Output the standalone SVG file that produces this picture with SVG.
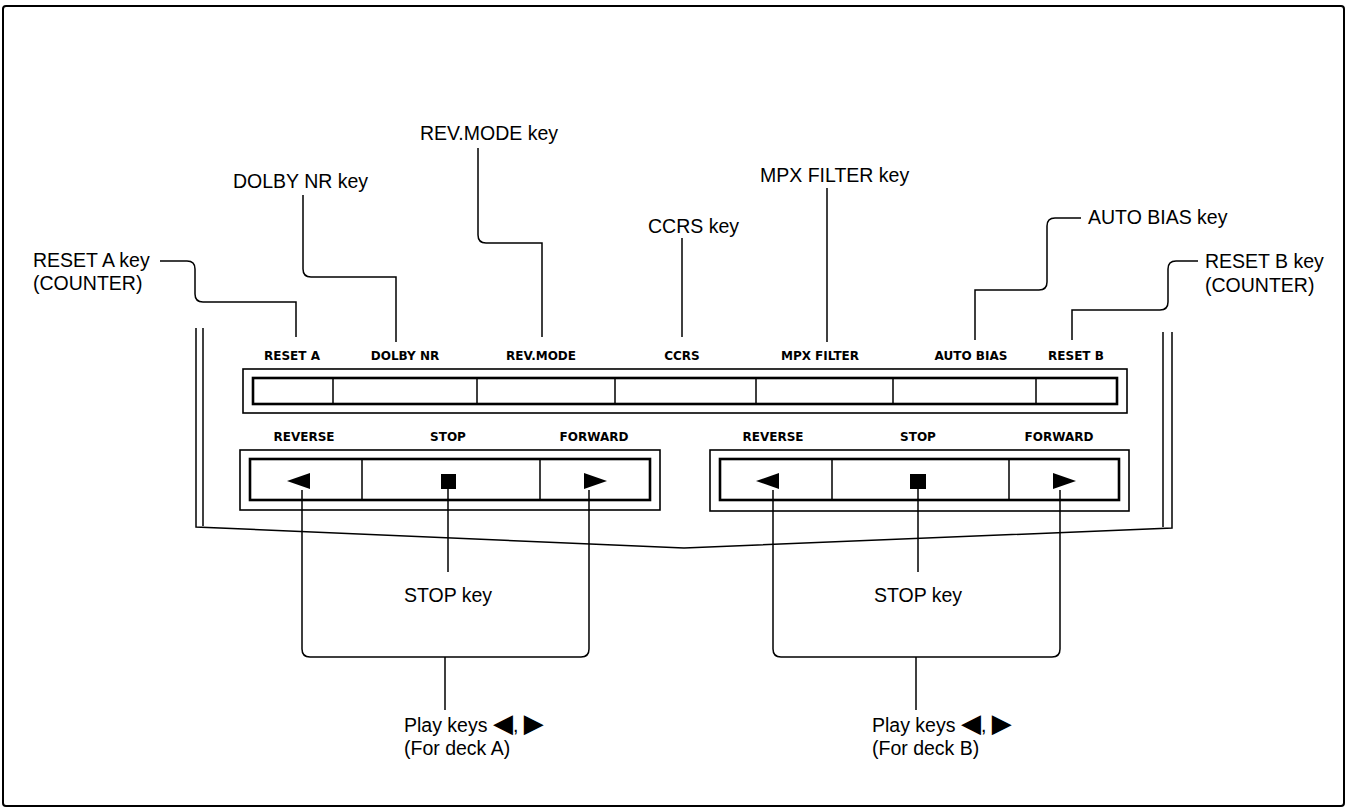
<svg xmlns="http://www.w3.org/2000/svg" width="1347" height="809" viewBox="0 0 1347 809">
<style>
.big{font-family:"Liberation Sans",Arial,sans-serif;font-size:19.5px;fill:#000}
.sm{font-family:"DejaVu Sans",sans-serif;font-weight:bold;font-size:12px;fill:#000;text-anchor:middle}
.tri{font-family:"DejaVu Sans",sans-serif;font-size:26px}
.ln{fill:none;stroke:#000;stroke-width:1.5}
.outer{fill:#fff;stroke:#000;stroke-width:1.6}
.inner{fill:none;stroke:#000;stroke-width:2.6}
.div{stroke:#000;stroke-width:1.5}
</style>
<rect width="1347" height="809" fill="#fff"/>
<rect id="frame" x="3" y="6" width="1341" height="800" rx="3" fill="none" stroke="#000" stroke-width="2"/>

<g id="body">
<path class="ln" d="M196,328 V527 L684,548 L1172,528 V332"/>
<path class="ln" d="M203,328 V526"/>
<path class="ln" d="M1163,332 V527"/>
</g>

<g id="function-keys">
<rect class="outer" x="243" y="369" width="884" height="44"/>
<rect class="inner" x="253" y="378" width="864" height="26"/>
<path class="div" d="M333,378V404M477,378V404M615,378V404M756,378V404M893,378V404M1036,378V404"/>
<text class="sm" x="292" y="360">RESET A</text>
<text class="sm" x="405" y="360">DOLBY NR</text>
<text class="sm" x="541" y="360">REV.MODE</text>
<text class="sm" x="682" y="360">CCRS</text>
<text class="sm" x="820" y="360">MPX FILTER</text>
<text class="sm" x="971" y="360">AUTO BIAS</text>
<text class="sm" x="1076" y="360">RESET B</text>
</g>

<g id="deck-a">
<rect class="outer" x="240" y="450" width="420" height="60"/>
<rect class="inner" x="250" y="459" width="400" height="41"/>
<path class="div" d="M362,459V500M540,459V500"/>
<polygon points="287,481 310,473 310,489" fill="#000"/>
<rect x="441" y="474" width="15" height="15" fill="#000"/>
<polygon points="607,481 584,473 584,489" fill="#000"/>
<text class="sm" x="304" y="441">REVERSE</text>
<text class="sm" x="448" y="441">STOP</text>
<text class="sm" x="594" y="441">FORWARD</text>
</g>

<g id="deck-b">
<rect class="outer" x="710" y="450" width="419" height="61"/>
<rect class="inner" x="720" y="459" width="399" height="41"/>
<path class="div" d="M832,459V500M1009,459V500"/>
<polygon points="756,481 779,473 779,489" fill="#000"/>
<rect x="910" y="474" width="16" height="15" fill="#000"/>
<polygon points="1076,481 1053,473 1053,489" fill="#000"/>
<text class="sm" x="773" y="441">REVERSE</text>
<text class="sm" x="918" y="441">STOP</text>
<text class="sm" x="1059" y="441">FORWARD</text>
</g>

<g id="label-reset-a"><text class="big" x="33" y="267">RESET A key</text><text class="big" x="33" y="290">(COUNTER)</text></g>
<g id="label-dolby"><text class="big" x="233" y="188">DOLBY NR key</text></g>
<g id="label-revmode"><text class="big" x="420" y="140">REV.MODE key</text></g>
<g id="label-ccrs"><text class="big" x="648" y="233">CCRS key</text></g>
<g id="label-mpx"><text class="big" x="760" y="182">MPX FILTER key</text></g>
<g id="label-autobias"><text class="big" x="1088" y="224">AUTO BIAS key</text></g>
<g id="label-reset-b"><text class="big" x="1205" y="268">RESET B key</text><text class="big" x="1205" y="292">(COUNTER)</text></g>
<g id="label-stop-a"><text class="big" x="448" y="602" text-anchor="middle">STOP key</text></g>
<g id="label-stop-b"><text class="big" x="918" y="602" text-anchor="middle">STOP key</text></g>
<g id="label-play-a"><text class="big" x="404" y="732">Play keys <tspan class="tri">◀</tspan>, <tspan class="tri">▶</tspan></text><text class="big" x="404" y="755">(For deck A)</text></g>
<g id="label-play-b"><text class="big" x="872" y="732">Play keys <tspan class="tri">◀</tspan>, <tspan class="tri">▶</tspan></text><text class="big" x="872" y="755">(For deck B)</text></g>

<g id="connectors">
<path class="ln" d="M160,261 H187 Q195,261 195,269 V294 Q195,302 203,302 H296 V337"/>
<path class="ln" d="M303,195 V269 Q303,277 311,277 H396 V342"/>
<path class="ln" d="M478,148 V235 Q478,243 486,243 H542 V337"/>
<path class="ln" d="M682,238 V337"/>
<path class="ln" d="M827,188 V342"/>
<path class="ln" d="M1081,218 H1055 Q1047,218 1047,226 V282 Q1047,290 1039,290 H975 V340"/>
<path class="ln" d="M1198,261 H1176 Q1168,261 1168,269 V302 Q1168,310 1160,310 H1072 V340"/>
<path class="ln" d="M448,488 V572"/>
<path class="ln" d="M918,488 V572"/>
<path class="ln" d="M302,490 V649 Q302,657 310,657 H581 Q589,657 589,649 V490"/>
<path class="ln" d="M445,657 V710"/>
<path class="ln" d="M773,490 V649 Q773,657 781,657 H1052 Q1060,657 1060,649 V490"/>
<path class="ln" d="M916,657 V710"/>
</g>
</svg>
